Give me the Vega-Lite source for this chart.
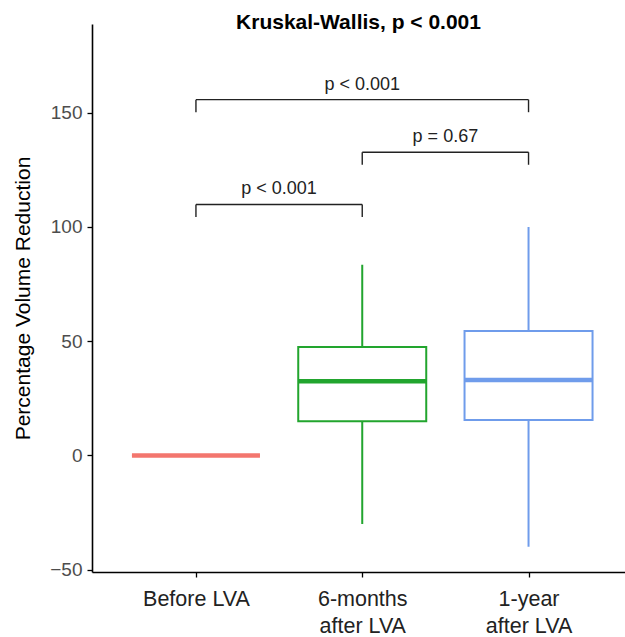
{
  "$schema": "https://vega.github.io/schema/vega-lite/v6.json",
  "autosize": {"type": "none"},
  "padding": {"left": 92, "top": 24, "right": 0, "bottom": 65},
  "width": 533,
  "height": 548,
  "title": {"text": "Kruskal-Wallis, p < 0.001", "font": "Liberation Sans", "fontSize": 21, "fontWeight": "bold", "color": "#000000", "anchor": "middle", "offset": -9},
  "config": {
    "view": {"stroke": null},
    "font": "Liberation Sans",
    "axis": {"grid": false, "domainColor": "#000000", "domainWidth": 1.6, "tickColor": "#000000", "tickWidth": 1.3, "tickSize": 5, "labelFont": "Liberation Sans", "labelColor": "#4d4d4d", "labelFontSize": 19, "titleFont": "Liberation Sans", "titleFontWeight": "normal", "titleColor": "#000000", "titleFontSize": 21}
  },
  "datasets": {
    "boxes": [
      {"pos": 1, "group": "Before LVA", "lower": 0, "q1": 0, "median": 0, "q3": 0, "upper": 0},
      {"pos": 2, "group": "6-months after LVA", "lower": -30, "q1": 15, "median": 32.5, "q3": 47.5, "upper": 83.5},
      {"pos": 3, "group": "1-year after LVA", "lower": -40, "q1": 15.5, "median": 33, "q3": 54.5, "upper": 100}
    ],
    "segs": [
      {"a": 1, "b": 3, "y1": 155.7, "y2": 155.7},
      {"a": 1, "b": 1, "y1": 155.7, "y2": 150.2},
      {"a": 3, "b": 3, "y1": 155.7, "y2": 150.2},
      {"a": 2, "b": 3, "y1": 132.7, "y2": 132.7},
      {"a": 2, "b": 2, "y1": 132.7, "y2": 127.2},
      {"a": 3, "b": 3, "y1": 132.7, "y2": 127.2},
      {"a": 1, "b": 2, "y1": 109.8, "y2": 109.8},
      {"a": 1, "b": 1, "y1": 109.8, "y2": 104.3},
      {"a": 2, "b": 2, "y1": 109.8, "y2": 104.3}
    ],
    "labels": [
      {"x": 2, "y": 162.2, "label": "p < 0.001"},
      {"x": 2.5, "y": 139.4, "label": "p = 0.67"},
      {"x": 1.5, "y": 116.8, "label": "p < 0.001"}
    ]
  },
  "encoding": {
    "x": {"type": "quantitative", "scale": {"domain": [0.405, 3.55], "nice": false, "zero": false},
      "axis": {"title": null, "values": [1, 2, 3], "labelExpr": "datum.value == 1 ? 'Before LVA' : datum.value == 2 ? ['6-months', 'after LVA'] : ['1-year', 'after LVA']", "labelFontSize": 21.5, "labelLineHeight": 27, "labelPadding": 11, "labelBaseline": "top", "labelColor": "#222222"}}
  },
  "layer": [
    {
      "data": {"name": "boxes"},
      "mark": {"type": "rule", "strokeWidth": 2},
      "encoding": {
        "x": {"field": "pos", "type": "quantitative"},
        "y": {"field": "lower", "type": "quantitative", "scale": {"domain": [-51, 188.8], "nice": false, "zero": false},
          "axis": {"title": "Percentage Volume Reduction", "values": [-50, 0, 50, 100, 150], "titlePadding": 16, "labelPadding": 5}},
        "y2": {"field": "upper"},
        "color": {"field": "group", "type": "nominal", "scale": {"domain": ["Before LVA", "6-months after LVA", "1-year after LVA"], "range": ["#F3766E", "#22A52E", "#6F9CEB"]}, "legend": null}
      }
    },
    {
      "data": {"name": "boxes"},
      "mark": {"type": "bar", "size": 128, "fill": "#ffffff", "strokeWidth": 2},
      "encoding": {
        "x": {"field": "pos", "type": "quantitative"},
        "y": {"field": "q1", "type": "quantitative"},
        "y2": {"field": "q3"},
        "stroke": {"field": "group", "type": "nominal", "scale": {"domain": ["Before LVA", "6-months after LVA", "1-year after LVA"], "range": ["#F3766E", "#22A52E", "#6F9CEB"]}, "legend": null}
      }
    },
    {
      "data": {"name": "boxes"},
      "mark": {"type": "tick", "orient": "horizontal", "size": 128, "thickness": 4.5, "opacity": 1},
      "encoding": {
        "x": {"field": "pos", "type": "quantitative"},
        "y": {"field": "median", "type": "quantitative"},
        "color": {"field": "group", "type": "nominal", "legend": null}
      }
    },
    {
      "data": {"name": "segs"},
      "mark": {"type": "rule", "color": "#222222", "strokeWidth": 1.4},
      "encoding": {
        "x": {"field": "a", "type": "quantitative"},
        "x2": {"field": "b"},
        "y": {"field": "y1", "type": "quantitative"},
        "y2": {"field": "y2"}
      }
    },
    {
      "data": {"name": "labels"},
      "mark": {"type": "text", "fontSize": 18, "color": "#222222", "baseline": "middle", "align": "center"},
      "encoding": {
        "x": {"field": "x", "type": "quantitative"},
        "y": {"field": "y", "type": "quantitative"},
        "text": {"field": "label"}
      }
    }
  ]
}
